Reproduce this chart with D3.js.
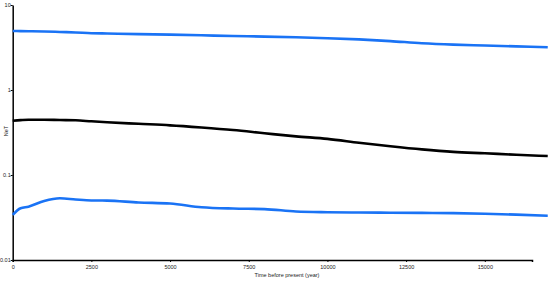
<!DOCTYPE html>
<html><head><meta charset="utf-8">
<script src="https://cdn.jsdelivr.net/npm/d3@7"></script>
<style>body{margin:0;background:#fff}svg{display:block}</style>
</head><body>
<script>
const years = [0, 250, 500, 1000, 1500, 2000, 2500, 3000, 4000, 5000, 6000, 7000, 8000, 9000, 10000, 11000, 12000, 13000, 14000, 15000, 16000, 17000];
const upperCI = [4.94, 4.93, 4.92, 4.88, 4.82, 4.75, 4.66, 4.62, 4.54, 4.48, 4.40, 4.32, 4.25, 4.17, 4.07, 3.94, 3.76, 3.55, 3.42, 3.34, 3.26, 3.18];
const median  = [0.435, 0.442, 0.447, 0.447, 0.443, 0.44, 0.428, 0.417, 0.40, 0.384, 0.362, 0.338, 0.310, 0.285, 0.266, 0.240, 0.218, 0.200, 0.187, 0.180, 0.173, 0.167];
const lowerCI = [0.0339, 0.0406, 0.0424, 0.0495, 0.0532, 0.0515, 0.0502, 0.0500, 0.0475, 0.0462, 0.0418, 0.0403, 0.0397, 0.0372, 0.0365, 0.0362, 0.0360, 0.0358, 0.0356, 0.0350, 0.0342, 0.0332];
const xTicks = [0, 2500, 5000, 7500, 10000, 12500, 15000];
const yTicks = [0.01, 0.1, 1, 10];
const xLabel = "Time before present (year)";
const yLabel = "NeT";

const W = 550, H = 281;
const svg = d3.select("body").append("svg").attr("width", W).attr("height", H);
const x = d3.scaleLinear().domain([0, 16500]).range([12.7, 532]);
const y = d3.scaleLog().domain([0.01, 10]).range([260, 5]);

const fontFam = "'Liberation Sans', Arial, sans-serif";
const fs = 5.5;

const xa = svg.append("g").attr("transform", "translate(0,260)")
  .call(d3.axisBottom(x).tickValues(xTicks).tickFormat(d3.format("d")).tickSizeInner(2).tickSizeOuter(2));
const ya = svg.append("g").attr("transform", "translate(12.7,0)")
  .call(d3.axisLeft(y).tickValues(yTicks).tickFormat(d => String(d)).tickSizeInner(2).tickSizeOuter(0));
[xa, ya].forEach(a => {
  a.select(".domain").attr("stroke", "#000").attr("stroke-width", 1.5);
  a.selectAll(".tick line").attr("stroke", "#000");
  a.selectAll("text").attr("font-family", fontFam).attr("font-size", fs).attr("fill", "#222");
});
xa.selectAll("text").attr("dy", "0.9em").attr("y", 4);
ya.selectAll("text").attr("x", -2);

svg.append("text").attr("x", 287).attr("y", 277).attr("text-anchor", "middle")
  .attr("font-family", fontFam).attr("font-size", fs).attr("fill", "#222").text(xLabel);
svg.append("text").attr("transform", "translate(8,131) rotate(-90)").attr("text-anchor", "middle")
  .attr("font-family", fontFam).attr("font-size", fs).attr("fill", "#222").text(yLabel);

const line = d3.line().x(d => x(d[0])).y(d => y(d[1])).curve(d3.curveMonotoneX);
const series = [[upperCI, "#1a73f5"], [lowerCI, "#1a73f5"], [median, "#000"]];
series.forEach(([vals, col]) => {
  svg.append("path").datum(years.map((yr, i) => [yr, vals[i]]))
    .attr("fill", "none").attr("stroke", col).attr("stroke-width", 2.6)
    .attr("stroke-linejoin", "round").attr("d", line);
});
</script>
</body></html>
